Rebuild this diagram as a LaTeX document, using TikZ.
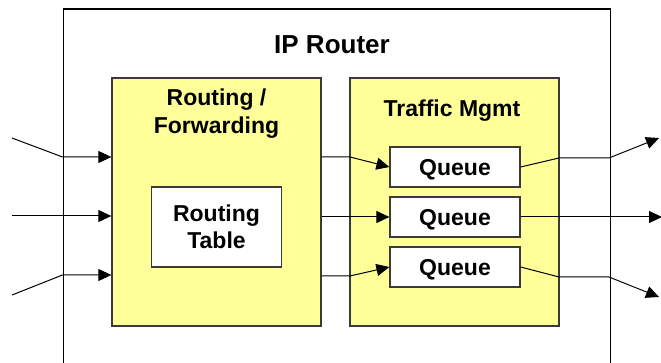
\documentclass[tikz,border=0pt]{standalone}
\usepackage{fontspec}
\setmainfont{Liberation Sans}
\usetikzlibrary{arrows.meta}
\definecolor{paleyellow}{HTML}{FFFF99}
\definecolor{edgegray}{HTML}{3A3A3A}
\begin{document}
\begin{tikzpicture}[x=1pt,y=-1pt,
  block/.style={draw=edgegray,line width=1.3pt,fill=paleyellow,inner sep=0pt,
    minimum width=209pt,minimum height=248pt},
  innerbox/.style={draw=edgegray,line width=1.2pt,fill=white,inner sep=0pt,
    align=center,text depth=0pt,font=\fontsize{23}{27}\selectfont\bfseries},
  label/.style={align=center,inner sep=0pt,font=\fontsize{23}{28}\selectfont\bfseries},
  arr/.style={line width=1pt,-{Triangle[length=13pt,width=12pt]}},
  plain/.style={line width=1pt}]
\useasboundingbox (0,0) rectangle (661,363);
\clip (0,0) rectangle (661,363);

% router enclosure (its lower edge lies below the page)
\node[draw=black,line width=1.3pt,inner sep=0pt,minimum width=547pt,minimum height=400pt,
  anchor=north west] (router) at (62.5,8.5) {};
\node[label,font=\fontsize{26}{30}\selectfont\bfseries] (title) at (332,45) {IP Router};

% functional blocks
\node[block] (rf) at (216.5,202) {};
\node[block] (tm) at (454.5,202) {};
\node[label] (rftext) at (216.5,114) {Routing /\\Forwarding};
\node[label] (tmtext) at (452,111) {Traffic Mgmt};

\node[innerbox,minimum width=130pt,minimum height=80pt] (rt) at (216.5,227) {Routing\\Table};
\node[innerbox,minimum width=130pt,minimum height=40pt] (q1) at (455,167) {Queue};
\node[innerbox,minimum width=130pt,minimum height=40pt] (q2) at (455,217) {Queue};
\node[innerbox,minimum width=130pt,minimum height=40pt] (q3) at (455,267) {Queue};

% line ends and bends
\coordinate (in1) at (12,138);
\coordinate (in2) at (12,216);
\coordinate (in3) at (12,295);
\coordinate (b1) at (62.5,157);
\coordinate (b3) at (62.5,275);
\coordinate (m1) at (350,157);
\coordinate (m3) at (350,276);
\coordinate (o1) at (559,158);
\coordinate (p1) at (609,158);
\coordinate (o3) at (559,277);
\coordinate (p3) at (609,277);
\coordinate (out1) at (659,138);
\coordinate (out2) at (662,217);
\coordinate (out3) at (659,297);

% incoming packets
\draw[arr] (in1) -- (b1) -- (rf.west |- b1);
\draw[arr] (in2) -- (rf.west |- in2);
\draw[arr] (in3) -- (b3) -- (rf.west |- b3);

% forwarding to queues
\draw[arr] (rf.east |- m1) -- (m1) -- (q1.west);
\draw[arr] (rf.east |- q2) -- (q2.west);
\draw[arr] (rf.east |- m3) -- (m3) -- (q3.west);

% outgoing packets
\draw[arr] (q1.east) -- (o1) -- (p1) -- (out1);
\draw[arr] (q2.east) -- (out2);
\draw[arr] (q3.east) -- (o3) -- (p3) -- (out3);
\end{tikzpicture}
\end{document}
